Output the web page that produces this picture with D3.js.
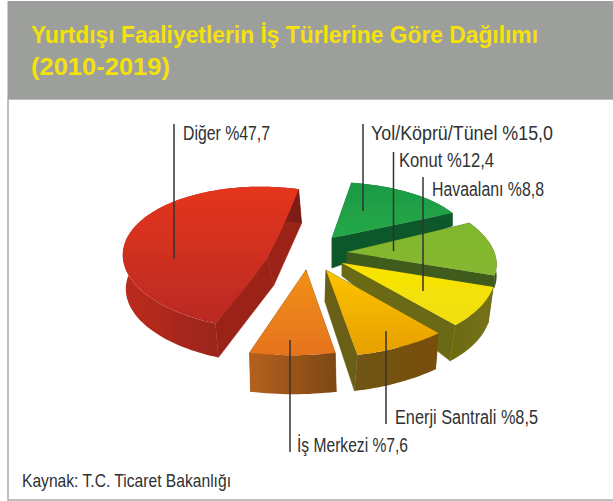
<!DOCTYPE html>
<html><head><meta charset="utf-8">
<script src="https://cdn.jsdelivr.net/npm/d3@7"></script>
<style>html,body{margin:0;padding:0;background:#fff}svg{display:block}</style></head>
<body><svg id="c" width="613" height="501"></svg>
<script>
const titleLines = ["Yurtdışı Faaliyetlerin İş Türlerine Göre Dağılımı", "(2010-2019)"];
const source = "Kaynak: T.C. Ticaret Bakanlığı";
const categories = ["Yol/Köprü/Tünel", "Konut", "Havaalanı", "Enerji Santrali", "İş Merkezi", "Diğer"];
const values = [15.0, 12.4, 8.8, 8.5, 7.6, 47.7];

// Layout of the hand-drawn perspective: the source picture is not a single true projection,
// so each wedge has its own apex and its own projected circle axes.
const apex   = [[332,238],[347,252],[342,263],[326,270],[306,270],[267,258]];
const axisA  = [[136,0],[148,2],[153,-2],[171,-5],[182,-6],[144,7]];
const axisB  = [[-3,-56],[-22,-69],[-19,-83],[-3,-87],[1,-85],[8,-71]];
const wallA  = [[0,30],[0,12],[0,13],[-1,32],[0,36],[7,27]];      // extrusion at apex
const wallR  = [[0,13],[0,12],[-5,36],[-3,36],[1,39],[3,34]];     // extrusion on rim
const cutSmooth = [false,false,false,false,false,true];
const topCol = [["#1c9a44","#25a848"],["#80b92e","#86b630"],["#f9e400","#efdf10"],["#fcc400","#e79f05"],["#f19018","#e6731c"],["#e5351f","#b92a20"]];
const rimCol = [["#0f5a2c","#0f5a2c"],["#3f5a1e","#33561f"],["#6b6c10","#76701a"],["#6f5512","#7a4e10"],["#b5601c","#7d4816"],["#bd2c20","#7a1e14"]];
const cutCol = ["#0e582b","#3f5c1c","#6a6b12","#6b5f12","#8a5216","#9a2418"];
const leaders = [[363,124,211],[393.5,152,251],[423,177,291],[386,331,424],[290,340,452],[174,124,259]];
const labelPos = [[371,140,182],[399,167,95],[432,196,112],[395,424,143],[297,452,111],[183,140,87]];

const svg = d3.select("#c");
const defs = svg.append("defs");
defs.append("filter").attr("id","soft").append("feGaussianBlur").attr("stdDeviation",0.45);

svg.append("rect").attr("x",8).attr("y",99).attr("width",610).attr("height",401)
  .attr("fill","#fff").attr("stroke","#a9aaa9").attr("stroke-width",1.5);
svg.append("rect").attr("x",7.5).attr("y",1).attr("width",606).attr("height",98).attr("fill","#9d9f9d");

const narrow = "'Liberation Sans Narrow', 'Liberation Sans', sans-serif";
svg.selectAll("text.title").data(titleLines).join("text").attr("class","title")
  .attr("x",31).attr("y",(d,i)=>43+i*32)
  .attr("textLength",(d,i)=>i?139:507).attr("lengthAdjust","spacingAndGlyphs")
  .attr("font-family",narrow).attr("font-weight",700).attr("font-size",24.5).attr("fill","#f5e20a").text(d=>d);

const rot = 9.5*Math.PI/180;
const pie = d3.pie().sort(null).startAngle(rot).endAngle(rot+2*Math.PI);
const arcs = pie(values);
const line = d3.line();
const smooth = d3.line().curve(d3.curveCatmullRom.alpha(0.5));
const g = svg.append("g").attr("filter","url(#soft)");

function grad(id, cols, x2, y2){
  const l = defs.append("linearGradient").attr("id",id).attr("x1",0).attr("y1",0).attr("x2",x2).attr("y2",y2);
  l.append("stop").attr("offset",0).attr("stop-color",cols[0]);
  l.append("stop").attr("offset",1).attr("stop-color",cols[1]);
  return `url(#${id})`;
}

arcs.forEach((a,i)=>{
  const [ax,ay] = apex[i], A = axisA[i], B = axisB[i];
  const n = Math.max(8, Math.ceil((a.endAngle-a.startAngle)/0.03));
  const thetas = d3.range(n+1).map(k=>a.startAngle+(a.endAngle-a.startAngle)*k/n);
  const rim = thetas.map(t=>[ax+Math.sin(t)*A[0]+Math.cos(t)*B[0], ay+Math.sin(t)*A[1]+Math.cos(t)*B[1]]);
  const low = rim.map(p=>[p[0]+wallR[i][0], p[1]+wallR[i][1]]);
  const apexLow = [ax+wallA[i][0], ay+wallA[i][1]];
  const rimFill = grad("rim"+i, rimCol[i], 1, 0);
  const topFill = grad("top"+i, topCol[i], 0, 1);
  // cut faces
  g.append("path").attr("d",line([[ax,ay],rim[0],low[0],apexLow])+"Z").attr("fill",cutCol[i]).attr("stroke",cutCol[i]).attr("stroke-width",.5);
  g.append("path").attr("d",line([[ax,ay],rim[n],low[n],apexLow])+"Z").attr("fill",cutCol[i]).attr("stroke",cutCol[i]).attr("stroke-width",.5);
  // rim face
  g.append("path").attr("d",line(rim.concat(low.slice().reverse()))+"Z").attr("fill",rimFill);
  // top face: polygon, or a soft curve along the cut for the large wedge
  const d = cutSmooth[i]
    ? line(rim) + smooth([rim[n],[ax,ay],rim[0]]).replace(/^M[^CLQ]*/,"") + "Z"
    : line([[ax,ay]].concat(rim)) + "Z";
  g.append("path").attr("d",d).attr("fill",topFill);
});

const fmt = v => "%"+v.toFixed(1).replace(".",",");
const ink = "#2f3133";
svg.selectAll("line.leader").data(leaders).join("line").attr("class","leader")
  .attr("x1",d=>d[0]).attr("x2",d=>d[0]).attr("y1",d=>d[1]).attr("y2",d=>d[2])
  .attr("stroke","#333").attr("stroke-width",1.5);
svg.selectAll("text.lab").data(categories).join("text").attr("class","lab")
  .attr("x",(d,i)=>labelPos[i][0]).attr("y",(d,i)=>labelPos[i][1])
  .attr("textLength",(d,i)=>labelPos[i][2]).attr("lengthAdjust","spacingAndGlyphs")
  .attr("font-family",narrow).attr("font-size",20).attr("fill",ink)
  .text((d,i)=>d+" "+fmt(values[i]));
svg.append("text").attr("x",22).attr("y",487).attr("textLength",209).attr("lengthAdjust","spacingAndGlyphs")
  .attr("font-family",narrow).attr("font-size",18.5).attr("fill",ink).text(source);
</script></body></html>
